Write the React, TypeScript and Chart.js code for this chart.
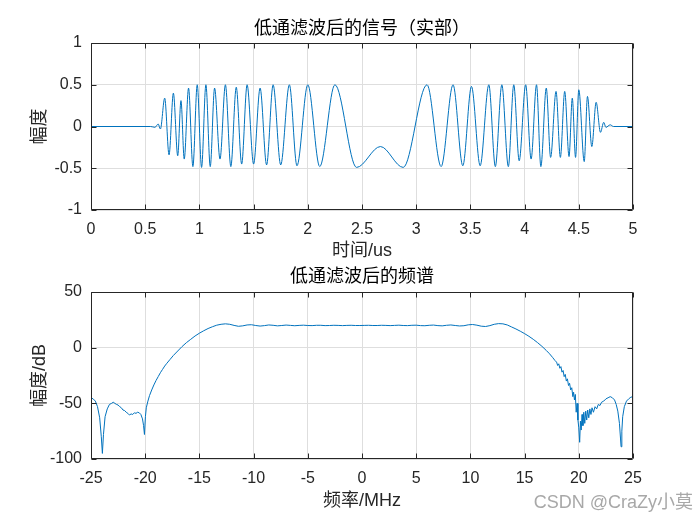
import React, { useEffect, useRef } from "react";
import { Chart, registerables } from "chart.js";

Chart.register(...registerables);

const sigTime = [
  0, 0.55, 0.59, 0.62, 0.64, 0.68, 0.72, 0.76, 0.8, 0.83, 0.86, 0.9, 0.94, 0.98, 1.02, 1.06, 1.1, 1.14, 1.19,
  1.24, 1.29, 1.34, 1.39, 1.44, 1.5, 1.56, 1.62, 1.68, 1.75, 1.83, 1.9, 2.0, 2.11, 2.25, 2.45, 2.67, 2.88,
  3.1, 3.23, 3.34, 3.43, 3.51, 3.59, 3.67, 3.73, 3.79, 3.85, 3.9, 3.95, 4.01, 4.06, 4.11, 4.15, 4.2, 4.24,
  4.29, 4.33, 4.37, 4.41, 4.44, 4.47, 4.5, 4.55, 4.58, 4.62, 4.66, 4.7, 4.73, 4.75, 4.79, 4.82, 5,
];
const sigAmp = [
  0, 0, -0.01, 0.03, -0.03, 0.34, -0.34, 0.4, -0.35, 0.31, -0.39, 0.46, -0.48, 0.5, -0.49, 0.5, -0.48, 0.46, -0.39,
  0.5, -0.48, 0.47, -0.45, 0.5, -0.45, 0.46, -0.46, 0.5, -0.46, 0.5, -0.47, 0.5, -0.48, 0.5, -0.49, -0.24, -0.49,
  0.5, -0.48, 0.5, -0.47, 0.48, -0.47, 0.5, -0.48, 0.5, -0.48, 0.5, -0.41, 0.5, -0.39, 0.5, -0.48, 0.46, -0.37,
  0.42, -0.37, 0.42, -0.36, 0.34, -0.37, 0.44, -0.42, 0.36, -0.24, 0.29, -0.07, 0.05, -0.01, 0.02, 0, 0,
];

// ---- Bottom: spectrum after low-pass filter (dB) ----
const specFreq = [
  -25, -24.8, -24.6, -24.4, -24.2, -24.05, -23.95, -23.85, -23.7, -23.5, -23.3, -23.1, -22.95, -22.8, -22.65,
  -22.5, -22.35, -22.2, -22.05, -21.9, -21.75, -21.6, -21.45, -21.3, -21.15, -21.0, -20.85, -20.7, -20.55,
  -20.4, -20.25, -20.15, -20.07, -19.98, -19.9, -19.75, -19.6, -19.4, -19.2, -19.0, -18.8, -18.6, -18.4,
  -18.2, -18.0, -17.7, -17.4, -17.0, -16.6, -16.2, -15.8, -15.4, -15.0, -14.6, -14.2, -13.8, -13.4, -13.0,
  -12.6, -12.2, -11.8, -11.4, -11.0, -10.6, -10.2, -9.8, -9.4, -9.0, -8.6, -8.2, -7.8, -7.4, -7.0, -6.6,
  -6.2, -5.8, -5.4, -5.0, -4.6, -4.2, -3.8, -3.4, -3.0, -2.6, -2.2, -1.8, -1.4, -1.0, -0.6, -0.2, 0.2, 0.6,
  1.0, 1.4, 1.8, 2.2, 2.6, 3.0, 3.4, 3.8, 4.2, 4.6, 5.0, 5.4, 5.8, 6.2, 6.6, 7.0, 7.4, 7.8, 8.2, 8.6, 9.0,
  9.4, 9.8, 10.2, 10.6, 11.0, 11.4, 11.8, 12.2, 12.6, 13.0, 13.4, 13.8, 14.2, 14.6, 15.0, 15.4, 15.8, 16.2,
  16.6, 17.0, 17.3, 17.6, 17.8, 17.95, 18.05, 18.15, 18.25, 18.35, 18.45, 18.55, 18.65, 18.75, 18.85, 18.95,
  19.05, 19.15, 19.25, 19.35, 19.45, 19.52, 19.6, 19.68, 19.76, 19.84, 19.92, 20.0, 20.08, 20.15, 20.22,
  20.3, 20.38, 20.46, 20.55, 20.64, 20.73, 20.82, 20.92, 21.02, 21.12, 21.22, 21.35, 21.5, 21.65, 21.8,
  21.95, 22.1, 22.3, 22.5, 22.7, 22.9, 23.1, 23.3, 23.45, 23.6, 23.75, 23.85, 23.9, 23.97, 24.05, 24.2,
  24.4, 24.6, 24.8, 25,
];
const specDb = [
  -45, -46, -48, -53, -63, -80, -95, -78, -62, -55, -51, -50, -49, -50, -51,
  -51.5, -53, -54, -56, -56.5, -58, -59, -60.5, -59.5, -60, -58.5, -59, -58, -58.5,
  -60, -64, -70, -78, -62, -54, -48, -43, -38, -33.5, -29.5, -26, -22.5, -19.5,
  -16.5, -14, -10.5, -7, -3, 1, 4.5, 7.5, 10.5, 13, 15.2, 17.2, 18.8, 20.2, 21,
  21.4, 21, 20, 19.2, 19.6, 20.4, 20.6, 19.9, 19.4, 19.8, 20.4, 20.1, 19.6, 19.9, 20.3, 20.0,
  19.7, 20.0, 20.2, 19.9, 19.8, 20.1, 20.1, 19.8, 19.9, 20.1, 20.0, 19.8, 20.0, 20.1, 19.9, 19.9, 20.0, 20.1,
  19.9, 19.9, 20.1, 20.0, 19.8, 20.0, 20.2, 19.9, 19.8, 20.1, 20.2, 19.8, 19.7, 20.1, 20.3, 19.8, 19.6, 20.1, 20.4, 19.9, 19.5,
  19.7, 20.5, 20.8, 20.2, 19.3, 19.0, 19.8, 21.0, 21.6, 21.4, 20.4, 18.6, 16.8, 14.8, 12.6, 10.2, 7.5, 4.5,
  1.2, -2.5, -5.5, -9, -11.5, -13, -16, -14.5, -18.5, -17, -22, -20.5, -26, -24, -30, -28,
  -34, -32, -38, -36, -44, -40, -47, -42, -58, -50, -65, -72, -85, -66, -74,
  -60, -70, -58, -68, -57, -65, -56, -63, -55, -60, -54, -58, -53, -55, -51,
  -52, -49, -48, -46, -45, -44, -45, -47, -51, -57, -68, -82, -89, -75, -62, -53,
  -48, -46, -44.5, -44,
];

const LINE_COLOR = "#0072BD";
const AXIS_COLOR = "#262626";
const GRID_COLOR = "#dedede";
const TICK_FONT = "'Liberation Sans', Arial, sans-serif";
const LABEL_FONT = "'Liberation Sans', 'Noto Sans CJK SC', sans-serif";

type Deco = {
  title: string;
  titleY: number;
  xLabel: string;
  xLabelY: number;
  yLabel: string;
  yLabelX: number;
  watermark?: { text: string; x: number; y: number };
};

function fmtTick(v: number | string) {
  const n = Math.round(Number(v) * 1000) / 1000;
  return String(n);
}

function matlabPlugin(d: Deco) {
  return {
    id: "matlabDeco",
    afterDraw(chart: any) {
      const { ctx, chartArea: a, scales } = chart;
      ctx.save();
      ctx.strokeStyle = AXIS_COLOR;
      ctx.lineWidth = 1;
      const L = Math.round(a.left) + 0.5;
      const R = Math.round(a.right) - 0.5;
      const T = Math.round(a.top) + 0.5;
      const B = Math.round(a.bottom) - 0.5;
      ctx.beginPath();
      ctx.rect(L, T, R - L, B - T);
      const tl = 5;
      for (const t of scales.x.ticks) {
        const px = Math.round(scales.x.getPixelForValue(t.value)) + 0.5;
        ctx.moveTo(px, B);
        ctx.lineTo(px, B - tl);
        ctx.moveTo(px, T);
        ctx.lineTo(px, T + tl);
      }
      for (const t of scales.y.ticks) {
        const py = Math.round(scales.y.getPixelForValue(t.value)) + 0.5;
        ctx.moveTo(L, py);
        ctx.lineTo(L + tl, py);
        ctx.moveTo(R, py);
        ctx.lineTo(R - tl, py);
      }
      ctx.stroke();

      ctx.fillStyle = "#000";
      ctx.textAlign = "center";
      ctx.textBaseline = "middle";
      ctx.font = `18px ${LABEL_FONT}`;
      const cx = (a.left + a.right) / 2;
      ctx.fillText(d.title, cx, d.titleY);
      ctx.fillStyle = AXIS_COLOR;
      ctx.fillText(d.xLabel, cx, d.xLabelY);
      ctx.save();
      ctx.translate(d.yLabelX, (a.top + a.bottom) / 2);
      ctx.rotate(-Math.PI / 2);
      ctx.fillText(d.yLabel, 0, 0);
      ctx.restore();

      if (d.watermark) {
        ctx.fillStyle = "#a8a8a8";
        ctx.font = `18px ${LABEL_FONT}`;
        ctx.textAlign = "right";
        ctx.fillText(d.watermark.text, d.watermark.x, d.watermark.y);
      }
      ctx.restore();
    },
  };
}

function makeConfig(
  points: { x: number; y: number }[],
  xr: [number, number, number],
  yr: [number, number, number],
  canvasH: number,
  areaTop: number,
  areaBottom: number,
  smooth: boolean,
  deco: Deco
): any {
  return {
    type: "line",
    data: {
      datasets: [
        {
          data: points,
          borderColor: LINE_COLOR,
          borderWidth: 1,
          pointRadius: 0,
          fill: false,
          tension: 0,
          cubicInterpolationMode: smooth ? "monotone" : "default",
        },
      ],
    },
    options: {
      responsive: false,
      animation: false,
      devicePixelRatio: 1,
      layout: { padding: { top: areaTop, left: 0, right: 700 - 633, bottom: 0 } },
      plugins: { legend: { display: false }, tooltip: { enabled: false }, title: { display: false } },
      scales: {
        x: {
          type: "linear",
          min: xr[0],
          max: xr[1],
          ticks: {
            stepSize: xr[2],
            color: AXIS_COLOR,
            font: { family: TICK_FONT, size: 16 },
            padding: 10,
            maxRotation: 0,
            autoSkip: false,
            callback: fmtTick,
          },
          grid: { color: GRID_COLOR, drawTicks: false, lineWidth: 1 },
          border: { display: false },
          afterFit: (s: any) => {
            s.height = canvasH - areaBottom;
          },
        },
        y: {
          type: "linear",
          min: yr[0],
          max: yr[1],
          ticks: {
            stepSize: yr[2],
            color: AXIS_COLOR,
            font: { family: TICK_FONT, size: 16 },
            padding: 9,
            autoSkip: false,
            callback: fmtTick,
          },
          grid: { color: GRID_COLOR, drawTicks: false, lineWidth: 1 },
          border: { display: false },
          afterFit: (s: any) => {
            s.width = 91;
          },
        },
      },
    },
    plugins: [matlabPlugin(deco)],
  };
}

const TOP_H = 262;
const BOT_H = 263;

export default function App() {
  const topRef = useRef<HTMLCanvasElement>(null);
  const botRef = useRef<HTMLCanvasElement>(null);

  useEffect(() => {
    const sigPts = sigTime.map((t, i) => ({ x: t, y: sigAmp[i] }));
    const specPts = specFreq.map((f, i) => ({ x: f, y: specDb[i] }));
    const c1 = new Chart(
      topRef.current!,
      makeConfig(sigPts, [0, 5, 0.5], [-1, 1, 0.5], TOP_H, 43, 210, true, {
        title: "低通滤波后的信号（实部）",
        titleY: 29,
        xLabel: "时间/us",
        xLabelY: 251,
        yLabel: "幅度",
        yLabelX: 40,
      })
    );
    const c2 = new Chart(
      botRef.current!,
      makeConfig(specPts, [-25, 25, 5], [-100, 50, 50], BOT_H, 292 - TOP_H, 459 - TOP_H, false, {
        title: "低通滤波后的频谱",
        titleY: 277 - TOP_H,
        xLabel: "频率/MHz",
        xLabelY: 501 - TOP_H,
        yLabel: "幅度/dB",
        yLabelX: 40,
        watermark: { text: "CSDN @CraZy小莫", x: 693, y: 503 - TOP_H },
      })
    );
    return () => {
      c1.destroy();
      c2.destroy();
    };
  }, []);

  return (
    <div style={{ position: "fixed", left: 0, top: 0, width: 700, height: 525, background: "#fff" }}>
      <canvas ref={topRef} width={700} height={TOP_H} style={{ position: "absolute", left: 0, top: 0 }} />
      <canvas ref={botRef} width={700} height={BOT_H} style={{ position: "absolute", left: 0, top: TOP_H }} />
    </div>
  );
}
